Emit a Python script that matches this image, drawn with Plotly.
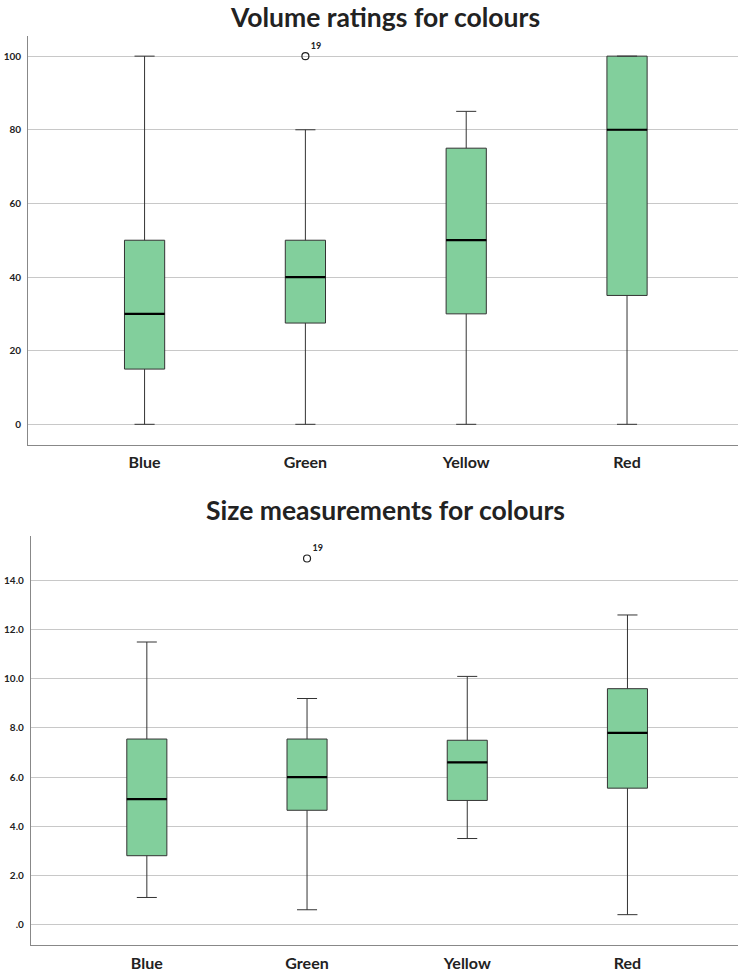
import plotly.graph_objects as go

categories = ["Blue", "Green", "Yellow", "Red"]
positions = [0, 1, 2, 3]

# Volume ratings
vol_min = [0, 0, 0, 0]
vol_q1 = [15, 27.5, 30, 35]
vol_med = [30, 40, 50, 80]
vol_q3 = [50, 50, 75, 100]
vol_max = [100, 80, 85, 100]
vol_out_x = [1]
vol_out_y = [100]
vol_out_lab = ["19"]
vol_ticks = [0, 20, 40, 60, 80, 100]
vol_ticktext = ["0", "20", "40", "60", "80", "100"]

# Size measurements
size_min = [1.1, 0.6, 3.5, 0.4]
size_q1 = [2.8, 4.65, 5.05, 5.55]
size_med = [5.1, 6.0, 6.6, 7.8]
size_q3 = [7.55, 7.55, 7.5, 9.6]
size_max = [11.5, 9.2, 10.1, 12.6]
size_out_x = [1]
size_out_y = [14.9]
size_out_lab = ["19"]
size_ticks = [0, 2, 4, 6, 8, 10, 12, 14]
size_ticktext = [".0", "2.0", "4.0", "6.0", "8.0", "10.0", "12.0", "14.0"]

BOX_W = 0.25
FILL = "#82CF9C"
EDGE = "#333333"
FONT = "Lato"

W, H = 738, 972

fig = go.Figure()


def add_panel(xref, yref, q1, med, q3, lo, hi, ox, oy, olab):
    fig.add_trace(go.Box(
        x=positions, q1=q1, median=med, q3=q3, lowerfence=lo, upperfence=hi,
        width=BOX_W, whiskerwidth=0.5, fillcolor=FILL,
        line=dict(color=EDGE, width=1), boxpoints=False,
        xaxis=xref, yaxis=yref, showlegend=False, hoverinfo="skip"))
    mx, my = [], []
    for p, m in zip(positions, med):
        mx += [p - BOX_W / 2, p + BOX_W / 2, None]
        my += [m, m, None]
    fig.add_trace(go.Scatter(
        x=mx, y=my, mode="lines", line=dict(color="black", width=2.2),
        xaxis=xref, yaxis=yref, showlegend=False, hoverinfo="skip"))
    fig.add_trace(go.Scatter(
        x=ox, y=oy, mode="markers+text", text=olab, textposition="top right",
        textfont=dict(family=FONT, size=9, color="#222", weight="bold"),
        marker=dict(symbol="circle-open", size=7, color="#222", line=dict(width=1.2)),
        xaxis=xref, yaxis=yref, showlegend=False, hoverinfo="skip"))


add_panel("x", "y", vol_q1, vol_med, vol_q3, vol_min, vol_max,
          vol_out_x, vol_out_y, vol_out_lab)
add_panel("x2", "y2", size_q1, size_med, size_q3, size_min, size_max,
          size_out_x, size_out_y, size_out_lab)

xcommon = dict(
    tickmode="array", tickvals=positions, ticktext=categories,
    range=[-0.723, 3.69], showgrid=False, zeroline=False,
    showline=True, linecolor="#888888", linewidth=1.3,
    ticks="", tickfont=dict(family=FONT, size=16, color="#222", weight="bold"),
    ticklabelstandoff=3, fixedrange=True)
ycommon = dict(
    tickmode="array", showgrid=True, gridcolor="#C8C8C8", gridwidth=1,
    zeroline=False, showline=True, linecolor="#888888", linewidth=1.3,
    ticks="", tickfont=dict(family=FONT, size=10, color="#222", weight="bold"),
    ticklabelstandoff=4, fixedrange=True)

fig.update_layout(
    width=W, height=H, margin=dict(l=0, r=0, t=0, b=0),
    paper_bgcolor="white", plot_bgcolor="white",
    xaxis=dict(xcommon, domain=[28.3 / W, 1], anchor="y"),
    yaxis=dict(ycommon, domain=[1 - 446.3 / H, 1 - 36 / H], anchor="x",
               range=[-5.6, 105.5], tickvals=vol_ticks, ticktext=vol_ticktext),
    xaxis2=dict(xcommon, domain=[31 / W, 1], anchor="y2"),
    yaxis2=dict(ycommon, domain=[1 - 948.3 / H, 1 - 537.3 / H], anchor="x2",
                range=[-0.85, 15.83], tickvals=size_ticks, ticktext=size_ticktext),
    annotations=[
        dict(text="<b>Volume ratings for colours</b>", x=385 / W, y=1 - 17 / H,
             xref="paper", yref="paper", showarrow=False, xanchor="center",
             yanchor="middle", font=dict(family=FONT, size=26.5, color="#222")),
        dict(text="<b>Size measurements for colours</b>", x=385 / W, y=1 - 512 / H,
             xref="paper", yref="paper", showarrow=False, xanchor="center",
             yanchor="middle", font=dict(family=FONT, size=26.5, color="#222")),
    ],
)

fig.write_html("out.html")
